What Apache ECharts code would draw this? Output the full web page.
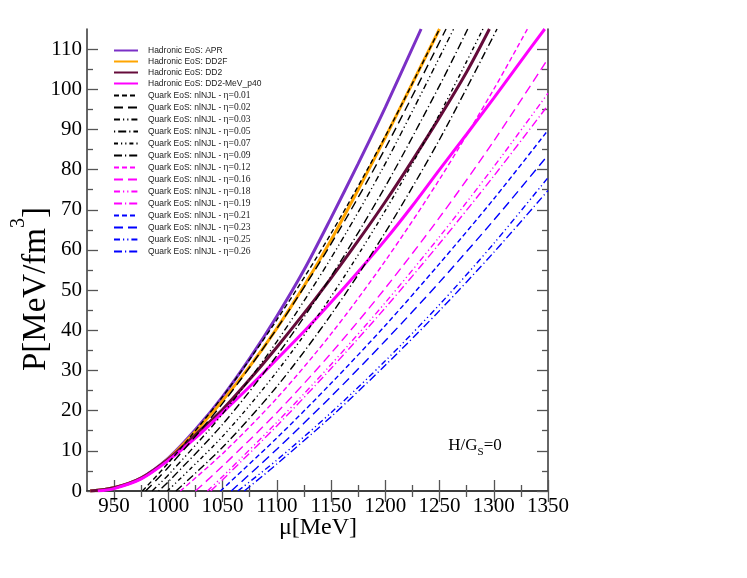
<!DOCTYPE html>
<html>
<head>
<meta charset="utf-8">
<script src="https://cdn.jsdelivr.net/npm/echarts@6/dist/echarts.min.js"></script>
<style>html,body{margin:0;padding:0;background:#fff}#c{width:747px;height:578px}</style>
</head>
<body>
<div id="c"></div>
<script>
// ---- tick labels ----
const xMajor = [950, 1000, 1050, 1100, 1150, 1200, 1250, 1300, 1350];
const xMinor = [975, 1025, 1075, 1125, 1175, 1225, 1275, 1325];
const yMajor = [0, 10, 20, 30, 40, 50, 60, 70, 80, 90, 100, 110];
const yMinor = [5, 15, 25, 35, 45, 55, 65, 75, 85, 95, 105];

// ---- hadronic EoS: [mu (MeV), P (MeV/fm^3)] ----
const hadAPR = [[928,0],[950,0.8],[975,3.3],[1000,8.2],[1025,15.3],[1050,23.5],[1075,33],[1100,43.5],[1125,55],[1150,68],[1175,81.5],[1200,95.5],[1233,115]];
const hadDD2F = [[928,0],[950,0.8],[975,3.2],[1000,8.0],[1025,14.8],[1050,22.5],[1075,31],[1100,40.5],[1125,51],[1150,62.5],[1175,75],[1200,88],[1225,101.5],[1250,115]];
const hadDD2 = [[928,0],[950,0.8],[975,3.2],[1000,7.9],[1025,14],[1050,20.3],[1075,27.8],[1100,35.8],[1125,44.2],[1150,53],[1175,62.3],[1200,72],[1225,82.3],[1250,93],[1275,104.3],[1296,115]];
const hadDD2p40 = [[935,0],[950,0.6],[975,3.0],[1000,7.6],[1025,13.2],[1050,19.5],[1075,26],[1100,32.8],[1125,39.7],[1150,47],[1175,54.6],[1200,62.5],[1225,71],[1250,80],[1275,88.8],[1300,97.8],[1325,107],[1347,115]];

// ---- quark EoS nlNJL, by eta ----
const q001 = [[976,0],[1000,7.0],[1050,23.5],[1100,42.6],[1150,64.1],[1200,88.3],[1250,115]];
const q002 = [[979,0],[1000,5.9],[1050,21.8],[1100,40.4],[1150,61.5],[1200,85.3],[1256,115]];
const q003 = [[985,0],[1000,4.0],[1050,19.2],[1100,37.2],[1150,58.0],[1200,81.5],[1263,115]];
const q005 = [[991,0],[1000,2.3],[1050,16.6],[1100,33.7],[1150,53.4],[1200,75.8],[1250,100.9],[1276,115]];
const q007 = [[999,0],[1050,13.6],[1100,29.7],[1150,48.4],[1200,69.8],[1250,93.8],[1290,115]];
const q009 = [[1007,0],[1050,10.9],[1100,26.0],[1150,43.9],[1200,64.4],[1250,87.5],[1303,115]];
const q012 = [[1011,0],[1050,9.3],[1100,23.1],[1150,39.1],[1200,57.3],[1250,77.6],[1300,100.0],[1331,115]];
const q016 = [[1025,0],[1050,6.2],[1100,19.5],[1150,34.3],[1200,50.5],[1250,68.1],[1300,87.1],[1350,107.6]];
const q018 = [[1036,0],[1050,3.6],[1100,17.1],[1150,31.5],[1200,46.9],[1250,63.3],[1300,80.7],[1350,99.0]];
const q019 = [[1039,0],[1050,2.8],[1100,16.2],[1150,30.5],[1200,45.6],[1250,61.6],[1300,78.4],[1350,96.0]];
const q021 = [[1048,0],[1100,13.2],[1150,26.8],[1200,41.2],[1250,56.6],[1300,72.7],[1350,89.8]];
const q023 = [[1058,0],[1100,10.4],[1150,23.5],[1200,37.4],[1250,52.0],[1300,67.4],[1350,83.6]];
const q025 = [[1064,0],[1100,7.7],[1150,19.5],[1200,32.4],[1250,46.4],[1300,61.6],[1350,78.0]];
const q026 = [[1070,0],[1100,6.7],[1150,18.5],[1200,31.3],[1250,44.9],[1300,59.4],[1350,74.8]];

const DASH = [5, 3], LONG = [9, 5], DDD = [6, 3, 1.2, 3, 1.2, 3], DOTDASH = [1.2, 3, 8, 3], DDOT = [4, 3, 1.2, 3, 1.2, 3], DASHDOT = [8, 3, 1.2, 3];

function line(name, data, color, width, type) {
  return {
    type: 'line', name: name, data: data, symbol: 'none', showSymbol: false,
    smooth: 0.3, clip: true, animation: false,
    lineStyle: { color: color, width: width, type: type || 'solid' },
    itemStyle: { color: color }
  };
}

const series = [
  line('Hadronic EoS: APR', hadAPR, '#7b30c6', 3),
  line('Hadronic EoS: DD2F', hadDD2F, '#ffa500', 3),
  line('Hadronic EoS: DD2', hadDD2, '#650b3a', 3),
  line('Hadronic EoS: DD2-MeV_p40', hadDD2p40, '#ff00ff', 3),
  line('Quark EoS: nlNJL - η=0.01', q001, '#000000', 1.4, DASH),
  line('Quark EoS: nlNJL - η=0.02', q002, '#000000', 1.4, LONG),
  line('Quark EoS: nlNJL - η=0.03', q003, '#000000', 1.4, DDD),
  line('Quark EoS: nlNJL - η=0.05', q005, '#000000', 1.4, DOTDASH),
  line('Quark EoS: nlNJL - η=0.07', q007, '#000000', 1.4, DDOT),
  line('Quark EoS: nlNJL - η=0.09', q009, '#000000', 1.4, DASHDOT),
  line('Quark EoS: nlNJL - η=0.12', q012, '#ff00ff', 1.4, DASH),
  line('Quark EoS: nlNJL - η=0.16', q016, '#ff00ff', 1.4, LONG),
  line('Quark EoS: nlNJL - η=0.18', q018, '#ff00ff', 1.4, DDD),
  line('Quark EoS: nlNJL - η=0.19', q019, '#ff00ff', 1.4, DASHDOT),
  line('Quark EoS: nlNJL - η=0.21', q021, '#0000ff', 1.4, DASH),
  line('Quark EoS: nlNJL - η=0.23', q023, '#0000ff', 1.4, LONG),
  line('Quark EoS: nlNJL - η=0.25', q025, '#0000ff', 1.4, DDD),
  line('Quark EoS: nlNJL - η=0.26', q026, '#0000ff', 1.4, DASHDOT)
];

const SERIF = '"Liberation Serif", "Times New Roman", serif';
const SANS = '"Liberation Sans", Arial, sans-serif';
const AX = '#333', TK = '#555';
const plain = function (v) { return String(v); };

function xAx(pos, ticks, len, showLine, showLabel) {
  return {
    type: 'value', min: 925, max: 1350, position: pos,
    axisLine: { show: showLine, lineStyle: { color: AX, width: 1.5 } },
    axisTick: { show: true, inside: true, length: len, customValues: ticks, lineStyle: { color: TK, width: 1.3 } },
    axisLabel: { show: showLabel, customValues: ticks, formatter: plain, fontFamily: SERIF, fontSize: 21, color: '#000', margin: 5 },
    splitLine: { show: false }
  };
}
function yAx(pos, ticks, len, showLine, showLabel) {
  return {
    type: 'value', min: 0, max: 115, position: pos,
    axisLine: { show: showLine, lineStyle: { color: AX, width: 1.5 } },
    axisTick: { show: true, inside: true, length: len, customValues: ticks, lineStyle: { color: TK, width: 1.3 } },
    axisLabel: { show: showLabel, customValues: ticks, formatter: plain, fontFamily: SERIF, fontSize: 21, color: '#000', margin: 5 },
    splitLine: { show: false }
  };
}

const chart = echarts.init(document.getElementById('c'), null, { renderer: 'canvas' });
chart.setOption({
  backgroundColor: '#fff',
  animation: false,
  grid: { left: 87, right: 199, top: 29, bottom: 87, containLabel: false },
  xAxis: [
    xAx('bottom', xMajor, 11, true, true),
    xAx('bottom', xMinor, 6, false, false),
    xAx('top', xMajor, 11, true, false),
    xAx('top', xMinor, 6, false, false)
  ],
  yAxis: [
    yAx('left', yMajor, 11, true, true),
    yAx('left', yMinor, 6, false, false),
    yAx('right', yMajor, 11, true, false),
    yAx('right', yMinor, 6, false, false)
  ],
  legend: {
    orient: 'vertical', left: 113, top: 46, padding: 0,
    itemWidth: 24, itemHeight: 8, itemGap: 2,
    selectedMode: false,
    itemStyle: { opacity: 0 },
    formatter: function (name) {
      const i = name.indexOf('η');
      if (i < 0) return '{s|' + name + '}';
      return '{s|' + name.slice(0, i) + '}{g|' + name.slice(i) + '}';
    },
    textStyle: {
      padding: [0, 0, 0, 5],
      rich: {
        s: { fontFamily: SANS, fontSize: 8.5, color: '#222', lineHeight: 11, verticalAlign: 'middle' },
        g: { fontFamily: SERIF, fontSize: 9.5, color: '#222', lineHeight: 8, verticalAlign: 'top' }
      }
    }
  },
  graphic: [
    {
      type: 'text', x: 318, y: 528,
      style: { text: 'μ[MeV]', font: '24px ' + SERIF, fill: '#000', align: 'center', verticalAlign: 'middle' }
    },
    {
      type: 'text', x: 31, y: 289, rotation: Math.PI / 2,
      style: {
        text: '{a|P[MeV/fm}{b|3}{a|]}', align: 'center', verticalAlign: 'middle',
        rich: {
          a: { fontFamily: SERIF, fontSize: 33, fill: '#000', color: '#000', lineHeight: 44, verticalAlign: 'bottom' },
          b: { fontFamily: SERIF, fontSize: 20, fill: '#000', color: '#000', lineHeight: 44, verticalAlign: 'top' }
        }
      }
    },
    {
      type: 'text', x: 475, y: 446,
      style: {
        text: '{a|H/G}{b|S}{a|=0}', align: 'center', verticalAlign: 'middle',
        rich: {
          a: { fontFamily: SERIF, fontSize: 17, fill: '#000', color: '#000', lineHeight: 24, verticalAlign: 'middle' },
          b: { fontFamily: SERIF, fontSize: 11, fill: '#000', color: '#000', lineHeight: 14, verticalAlign: 'bottom' }
        }
      }
    }
  ],
  series: series
});
</script>
</body>
</html>
